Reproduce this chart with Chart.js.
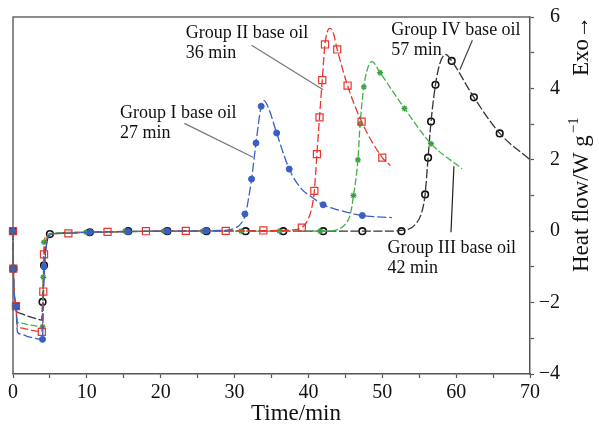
<!DOCTYPE html>
<html lang="en">
<head>
  <meta charset="UTF-8">
  <title>Heat flow of base oils</title>
  <script src="https://cdn.jsdelivr.net/npm/chart.js"></script>
  <style>
    body {
      margin: 0;
      background-color: #ffffff;
    }

    .chart-container {
      position: relative;
      width: 599px;
      height: 425px;
    }
  </style>
</head>
<body>

  <div class="chart-container">
    <canvas id="heatChart"></canvas>
  </div>

  <script>
    // Group I base oil (blue)
    const g1Time = [0, 0.05, 0.4, 0.6, 1, 2, 3, 4.0, 4.1, 4.3, 4.6, 5, 7, 10, 20, 28, 30, 31, 31.5, 32.3, 32.9, 33.6, 34.0, 34.6, 35.7, 37.4, 39, 40.5, 42, 44, 47.3, 51.3];
    const g1Flow = [0, -1.05, -2.1, -2.82, -2.88, -2.95, -3.0, -3.03, -2.0, -0.95, -0.3, -0.1, -0.06, -0.03, 0, 0.02, 0.08, 0.25, 0.5, 1.46, 2.47, 3.5, 3.66, 3.45, 2.75, 1.74, 1.2, 0.95, 0.74, 0.6, 0.44, 0.38];
    const g1MarkTime = [0, 0.05, 0.4, 4.0, 4.2, 10.4, 15.6, 20.9, 26.2, 31.4, 32.3, 32.9, 33.6, 35.7, 37.4, 42.0, 47.3];
    const g1MarkFlow = [0, -1.05, -2.1, -3.03, -1.0, -0.03, -0.01, 0, 0.01, 0.48, 1.46, 2.47, 3.5, 2.75, 1.74, 0.74, 0.44];

    // Group II base oil (red)
    const g2Time = [0, 0.05, 0.4, 0.6, 1, 2, 3, 3.9, 4.1, 4.2, 4.6, 5, 7.5, 10, 20, 30, 36, 38, 39.1, 40, 40.5, 40.8, 41.15, 41.5, 41.87, 42.24, 42.9, 43.3, 43.9, 45.3, 47.2, 50.0, 51.1];
    const g2Flow = [0, -1.05, -2.1, -2.68, -2.71, -2.75, -2.79, -2.82, -1.69, -0.65, -0.2, -0.09, -0.06, -0.03, 0, 0.01, 0.02, 0.04, 0.1, 0.35, 0.7, 1.13, 2.16, 3.19, 4.23, 5.23, 5.68, 5.6, 5.09, 4.08, 3.07, 2.06, 1.84];
    const g2MarkTime = [0, 0.05, 0.4, 3.9, 4.1, 4.2, 7.5, 12.8, 18.0, 23.4, 28.8, 33.9, 39.1, 40.8, 41.15, 41.5, 41.87, 42.24, 43.9, 45.3, 47.2, 50.0];
    const g2MarkFlow = [0, -1.05, -2.1, -2.82, -1.69, -0.65, -0.06, -0.02, 0, 0.01, 0.01, 0.02, 0.1, 1.13, 2.16, 3.19, 4.23, 5.23, 5.09, 4.08, 3.07, 2.06];

    // Group III base oil (green)
    const g3Time = [0, 0.05, 0.4, 0.6, 1, 2, 3, 4.0, 4.1, 4.2, 4.6, 5, 10, 20, 30, 40, 43, 44, 45, 45.7, 46.1, 46.7, 47.0, 47.5, 48.0, 48.6, 49.7, 53.0, 56.6, 60.8];
    const g3Flow = [0, -1.05, -2.1, -2.54, -2.57, -2.62, -2.65, -2.68, -1.29, -0.31, -0.12, -0.06, -0.03, 0, 0, 0, 0.01, 0.05, 0.2, 0.5, 1.0, 2.0, 3.01, 4.04, 4.55, 4.75, 4.44, 3.44, 2.45, 1.75];
    const g3MarkTime = [0, 0.05, 0.4, 4.0, 4.1, 4.2, 9.9, 15.2, 20.4, 25.7, 30.9, 36.1, 41.6, 46.1, 46.7, 47.0, 47.5, 49.7, 53.0, 56.6];
    const g3MarkFlow = [0, -1.05, -2.1, -2.68, -1.29, -0.31, -0.03, 0, 0, 0, 0, 0, 0, 1.0, 2.0, 3.01, 4.04, 4.44, 3.44, 2.45];

    // Group IV base oil (black)
    const g4Time = [0, 0.05, 0.4, 0.6, 1, 2, 3, 3.9, 4.0, 4.2, 4.6, 5, 10, 20, 40, 50, 53.5, 54.5, 55.3, 55.8, 56.2, 56.6, 57.2, 57.8, 58.6, 59.4, 62.4, 65.9, 70];
    const g4Flow = [0, -1.05, -2.1, -2.26, -2.3, -2.38, -2.44, -2.49, -1.98, -0.96, -0.3, -0.08, -0.03, 0, 0, 0, 0.05, 0.2, 0.5, 1.03, 2.06, 3.07, 4.1, 4.7, 4.95, 4.77, 3.75, 2.74, 2.0];
    const g4MarkTime = [0, 0.05, 0.4, 4.0, 4.2, 5.0, 10.4, 15.6, 20.9, 26.2, 31.5, 36.6, 42.0, 47.3, 52.6, 55.8, 56.2, 56.6, 57.2, 59.4, 62.4, 65.9];
    const g4MarkFlow = [0, -1.05, -2.1, -1.98, -0.96, -0.08, -0.03, 0, 0, 0, 0, 0, 0, 0, 0, 1.03, 2.06, 3.07, 4.1, 4.77, 3.75, 2.74];

    const xTickLabels = [0, 10, 20, 30, 40, 50, 60, 70];
    const yTickLabels = [-4, -2, 0, 2, 4, 6];

    const serif = '"Liberation Serif", "Times New Roman", serif';

    // label text, where the text starts and where its leader line runs (data units)
    const notes = [
      { text: ['Group I base oil', '27 min'], at: [14.5, 3.16], from: [23.2, 3.02], to: [32.5, 2.07], line: '#777' },
      { text: ['Group II base oil', '36 min'], at: [23.4, 5.40], from: [32.3, 5.21], to: [42.0, 3.96], line: '#777' },
      { text: ['Group IV base oil', '57 min'], at: [51.2, 5.49], from: [62.2, 5.35], to: [60.5, 4.52], line: '#444' },
      { text: ['Group III base oil', '42 min'], at: [50.7, -0.62], from: [59.7, 1.82], to: [59.3, -0.03], line: '#222' }
    ];

    const toPoints = (ts, vs) => ts.map((t, i) => ({ x: t, y: vs[i] }));

    const curve = (ts, vs, color, dash) => ({
      data: toPoints(ts, vs),
      showLine: true,
      borderColor: color,
      borderWidth: 1.3,
      borderDash: dash,
      pointRadius: 0,
      cubicInterpolationMode: 'monotone',
      clip: false
    });

    const marks = (ts, vs, style) => Object.assign({
      data: toPoints(ts, vs),
      showLine: false,
      clip: false
    }, style);

    const decorPlugin = {
      id: 'decor',
      afterDraw(chart) {
        const { ctx, chartArea: a, scales: { x, y } } = chart;
        ctx.save();

        // top and left frame
        ctx.strokeStyle = '#666';
        ctx.lineWidth = 1.5;
        ctx.beginPath();
        ctx.moveTo(a.left, a.bottom);
        ctx.lineTo(a.left, a.top);
        ctx.lineTo(a.right, a.top);
        ctx.stroke();

        // annotations
        ctx.font = '18px ' + serif;
        ctx.fillStyle = '#111';
        ctx.textBaseline = 'alphabetic';
        ctx.textAlign = 'left';
        notes.forEach(n => {
          ctx.strokeStyle = n.line;
          ctx.lineWidth = 1.2;
          ctx.beginPath();
          ctx.moveTo(x.getPixelForValue(n.from[0]), y.getPixelForValue(n.from[1]));
          ctx.lineTo(x.getPixelForValue(n.to[0]), y.getPixelForValue(n.to[1]));
          ctx.stroke();
          const px = x.getPixelForValue(n.at[0]);
          const py = y.getPixelForValue(n.at[1]);
          n.text.forEach((t, i) => ctx.fillText(t, px, py + i * 19.5));
        });

        // x title
        ctx.font = '23px ' + serif;
        ctx.textAlign = 'center';
        ctx.fillText('Time/min', 296, 420);

        // right title, rotated
        ctx.textAlign = 'left';
        ctx.save();
        ctx.translate(588, 272);
        ctx.rotate(-Math.PI / 2);
        ctx.font = '23px ' + serif;
        const main = 'Heat flow/W g';
        ctx.fillText(main, 0, 0);
        const w = ctx.measureText(main).width;
        ctx.font = '15px ' + serif;
        ctx.fillText('\u22121', w + 2, -10);
        ctx.restore();

        ctx.save();
        ctx.translate(588, 76);
        ctx.rotate(-Math.PI / 2);
        ctx.font = '23px ' + serif;
        ctx.fillText('Exo\u2192', 0, 0);
        ctx.restore();

        ctx.restore();
      }
    };

    const ctx = document.getElementById('heatChart').getContext('2d');
    const heatChart = new Chart(ctx, {
      type: 'scatter',
      data: {
        datasets: [
          curve(g1Time, g1Flow, '#3a5fc4', [9, 3]),
          marks(g1MarkTime, g1MarkFlow, { pointStyle: 'circle', pointRadius: 3, backgroundColor: '#3a5fc4', borderColor: '#3a5fc4', borderWidth: 1 }),
          curve(g2Time, g2Flow, '#e8352e', [8, 3]),
          marks(g2MarkTime, g2MarkFlow, { pointStyle: 'rect', pointRadius: 5, backgroundColor: 'rgba(255,255,255,0)', borderColor: '#e8352e', borderWidth: 1.2 }),
          curve(g3Time, g3Flow, '#45b04a', [7, 2.5]),
          marks(g3MarkTime, g3MarkFlow, { pointStyle: 'star', pointRadius: 3, backgroundColor: '#3a9a3f', borderColor: '#3a9a3f', borderWidth: 1.3 }),
          curve(g4Time, g4Flow, '#333333', [9, 2.5]),
          marks(g4MarkTime, g4MarkFlow, { pointStyle: 'circle', pointRadius: 3.3, backgroundColor: 'rgba(255,255,255,0.6)', borderColor: '#111', borderWidth: 1.6 })
        ]
      },
      options: {
        responsive: true,
        maintainAspectRatio: false,
        animation: false,
        layout: {
          padding: { top: 15, left: 13, right: 39, bottom: 0 }
        },
        plugins: {
          legend: { display: false },
          tooltip: { enabled: false }
        },
        scales: {
          x: {
            type: 'linear',
            position: 'bottom',
            min: 0,
            max: 70,
            afterFit: s => { s.height = 51; },
            border: { color: '#555', width: 1.5 },
            grid: { drawOnChartArea: false, tickLength: 4, color: '#555', tickWidth: 1.2 },
            ticks: {
              stepSize: 5,
              autoSkip: false,
              maxRotation: 0,
              padding: 3,
              color: '#111',
              font: { family: serif, size: 20 },
              callback: v => xTickLabels.includes(v) ? String(v) : ''
            }
          },
          y: {
            type: 'linear',
            position: 'right',
            min: -4,
            max: 6,
            afterFit: s => { s.width = 30; },
            border: { color: '#555', width: 1.5 },
            grid: { drawOnChartArea: false, tickLength: 4, color: '#555', tickWidth: 1.2 },
            ticks: {
              stepSize: 1,
              autoSkip: false,
              crossAlign: 'far',
              padding: 5,
              color: '#111',
              font: { family: serif, size: 20 },
              callback: v => yTickLabels.includes(v) ? (v < 0 ? '\u2212' + Math.abs(v) : String(v)) : ''
            }
          }
        }
      },
      plugins: [decorPlugin]
    });
  </script>

</body>
</html>
